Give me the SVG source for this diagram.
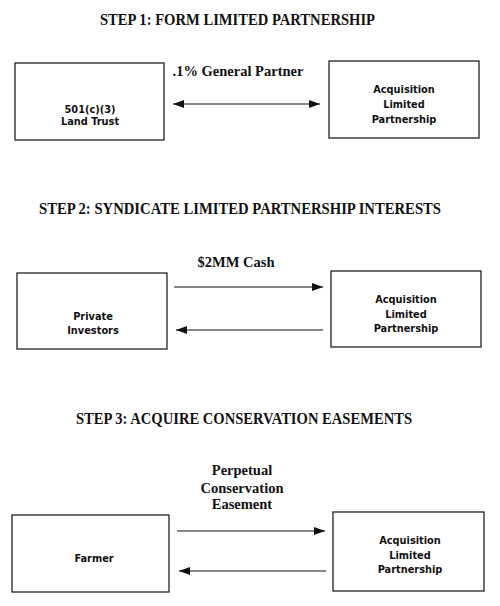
<svg xmlns="http://www.w3.org/2000/svg" width="500" height="606" viewBox="0 0 500 606">
<defs>
<marker id="ah" markerUnits="userSpaceOnUse" markerWidth="12" markerHeight="10" refX="11" refY="5" orient="auto-start-reverse">
<path d="M0,1 L11,5 L0,9 Z" fill="#111"/>
</marker>
<style>
.title{font-family:"Liberation Serif","Times New Roman",serif;font-weight:bold;font-size:16.5px;fill:#111}
.lbl{font-family:"Liberation Serif","Times New Roman",serif;font-weight:bold;font-size:14.5px;fill:#111;text-anchor:middle}
.box{fill:#fff;stroke:#222;stroke-width:1.3}
.nt{font-family:"DejaVu Sans",Verdana,sans-serif;font-weight:bold;font-size:9.8px;fill:#111;text-anchor:middle}
.conn{stroke:#111;stroke-width:1.2;fill:none}
</style>
</defs>
<rect width="500" height="606" fill="#fff"/>
<g id="titles">
<text class="title" x="100" y="25" textLength="275" lengthAdjust="spacingAndGlyphs">STEP 1: FORM LIMITED PARTNERSHIP</text>
<text class="title" x="39" y="214" textLength="402" lengthAdjust="spacingAndGlyphs">STEP 2: SYNDICATE LIMITED PARTNERSHIP INTERESTS</text>
<text class="title" x="76" y="424" textLength="336" lengthAdjust="spacingAndGlyphs">STEP 3: ACQUIRE CONSERVATION EASEMENTS</text>
</g>
<g id="land-trust">
<rect class="box" x="15" y="63" width="149" height="77"/>
<text class="nt" x="90" y="113">501(c)(3)</text>
<text class="nt" x="90" y="125">Land Trust</text>
</g>
<g id="alp1">
<rect class="box" x="329" y="61" width="150" height="77"/>
<text class="nt" x="404" y="93">Acquisition</text>
<text class="nt" x="404" y="108">Limited</text>
<text class="nt" x="404" y="123">Partnership</text>
</g>
<g id="investors">
<rect class="box" x="17" y="273" width="150" height="76"/>
<text class="nt" x="93" y="320">Private</text>
<text class="nt" x="93" y="334">Investors</text>
</g>
<g id="alp2">
<rect class="box" x="331" y="271" width="150" height="76"/>
<text class="nt" x="406" y="303">Acquisition</text>
<text class="nt" x="406" y="318">Limited</text>
<text class="nt" x="406" y="332">Partnership</text>
</g>
<g id="farmer">
<rect class="box" x="12" y="515" width="157" height="77"/>
<text class="nt" x="94" y="562">Farmer</text>
</g>
<g id="alp3">
<rect class="box" x="333" y="512" width="151" height="79"/>
<text class="nt" x="410" y="544">Acquisition</text>
<text class="nt" x="410" y="559">Limited</text>
<text class="nt" x="410" y="573">Partnership</text>
</g>
<g id="connectors">
<line class="conn" x1="173" y1="104" x2="320" y2="104" marker-start="url(#ah)" marker-end="url(#ah)"/>
<text class="lbl" x="238" y="76">.1% General Partner</text>
<line class="conn" x1="174" y1="287" x2="323" y2="287" marker-end="url(#ah)"/>
<line class="conn" x1="323" y1="330" x2="176" y2="330" marker-end="url(#ah)"/>
<text class="lbl" x="236" y="267">$2MM Cash</text>
<line class="conn" x1="177" y1="531" x2="325" y2="531" marker-end="url(#ah)"/>
<line class="conn" x1="326" y1="571" x2="179" y2="571" marker-end="url(#ah)"/>
<text class="lbl" x="242" y="475">Perpetual</text>
<text class="lbl" x="242" y="493">Conservation</text>
<text class="lbl" x="242" y="509">Easement</text>
</g>
</svg>
